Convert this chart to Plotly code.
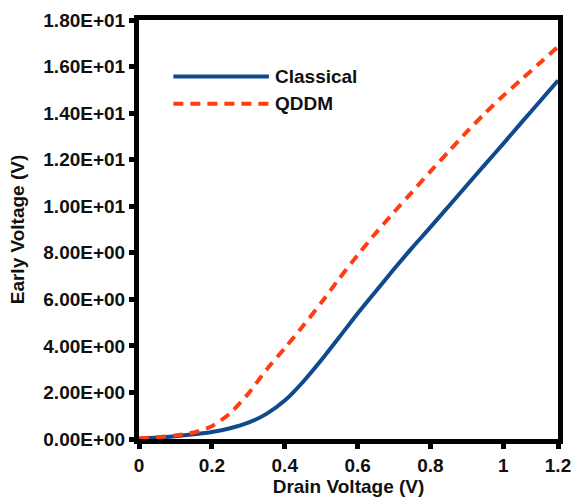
import plotly.graph_objects as go

# Drain voltage sweep (V)
drain_v = [0, 0.05, 0.1, 0.15, 0.2, 0.25, 0.3, 0.35, 0.4, 0.45, 0.5, 0.55,
           0.6, 0.65, 0.7, 0.75, 0.8, 0.85, 0.9, 0.95, 1.0, 1.05, 1.1, 1.15]

# Early voltage (V) for each model
classical = [0.02, 0.06, 0.12, 0.2, 0.3, 0.46, 0.7, 1.08, 1.65, 2.45, 3.38,
             4.38, 5.39, 6.35, 7.3, 8.22, 9.1, 10.0, 10.9, 11.8, 12.69, 13.6,
             14.5, 15.4]
qddm = [0.02, 0.08, 0.15, 0.28, 0.55, 1.1, 1.95, 2.98, 3.9, 4.85, 5.85, 6.9,
        7.9, 8.85, 9.75, 10.62, 11.5, 12.35, 13.2, 14.0, 14.75, 15.45, 16.15,
        16.85]

x_tickvals = [0, 0.2, 0.4, 0.6, 0.8, 1.0, 1.15]
x_ticktext = ["0", "0.2", "0.4", "0.6", "0.8", "1", "1.2"]
y_tickvals = [0, 2, 4, 6, 8, 10, 12, 14, 16, 18]
y_ticktext = [f"{v:.2E}" for v in y_tickvals]

BLUE = "#0f4a8e"
RED = "#ff3d12"
INK = "#111111"
FONT = "Liberation Sans, Arial, sans-serif"
FS = 19

fig = go.Figure()
fig.add_trace(go.Scatter(x=drain_v, y=classical, mode="lines", name="Classical",
                         line=dict(color=BLUE, width=4, shape="spline", smoothing=0.8),
                         showlegend=False))
fig.add_trace(go.Scatter(x=drain_v, y=qddm, mode="lines", name="QDDM",
                         line=dict(color=RED, width=4, dash="10px,7px",
                                   shape="spline", smoothing=0.6),
                         showlegend=False))

# Legend drawn as line samples with labels
legend_items = [("Classical", BLUE, "solid", 0.865), ("QDDM", RED, "10px,7px", 0.8)]
for label, color, dash, yy in legend_items:
    fig.add_shape(type="line", xref="paper", yref="paper",
                  x0=0.082, x1=0.31, y0=yy, y1=yy,
                  line=dict(color=color, width=4, dash=dash))
    fig.add_annotation(text=f"<b>{label}</b>", xref="paper", yref="paper",
                       x=0.32, y=yy, xanchor="left", yanchor="middle",
                       showarrow=False, font=dict(size=FS, color=INK, family=FONT))

axis_common = dict(showline=True, linecolor="black", linewidth=5, mirror=True,
                   ticks="outside", ticklen=5, tickwidth=5, tickcolor="black",
                   showgrid=False, zeroline=False, automargin=False,
                   tickfont=dict(size=FS, color=INK, family=FONT))

fig.update_xaxes(range=[0, 1.15], tickvals=x_tickvals,
                 ticktext=[f"<b>{t}</b>" for t in x_ticktext],
                 title=dict(text="<b>Drain Voltage (V)</b>", standoff=2,
                            font=dict(size=FS, color=INK, family=FONT)),
                 **axis_common)
fig.update_yaxes(range=[0, 18], tickvals=y_tickvals,
                 ticktext=[f"<b>{t}</b>" for t in y_ticktext],
                 title=dict(text="<b>Early Voltage (V)</b>", standoff=15,
                            font=dict(size=FS, color=INK, family=FONT)),
                 **axis_common)

fig.update_layout(width=583, height=497, margin=dict(l=139, r=25, t=20, b=58),
                  plot_bgcolor="white", paper_bgcolor="white",
                  font=dict(family=FONT))

fig.write_html("out.html")
